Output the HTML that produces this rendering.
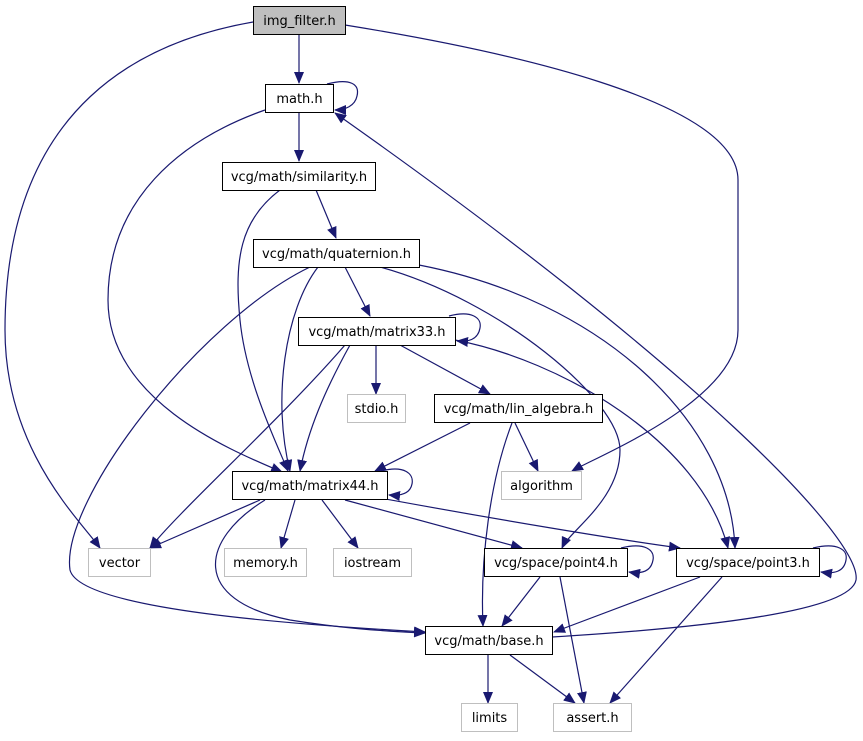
<!DOCTYPE html>
<html><head><meta charset="utf-8"><style>
body{margin:0;background:#fff;}
svg text{font-family:"DejaVu Sans","Liberation Sans",sans-serif;font-size:13px;fill:#000;}
</style></head><body>
<svg width="863" height="736" viewBox="0 0 863 736" xmlns="http://www.w3.org/2000/svg">
<defs>
<marker id="a" markerWidth="12" markerHeight="10" refX="11" refY="5" orient="auto" markerUnits="userSpaceOnUse">
<path d="M0,0 L12,5 L0,10 z" fill="#191970"/></marker>
</defs>
<g fill="none" stroke="#191970" stroke-width="1.2" marker-end="url(#a)">
<path d="M299,34 L299,83"/>
<path d="M253,22 C150,40 5,100 5,330 C5,450 80,520 100,548"/>
<path d="M345,25 C500,50 738,100 738,180 L738,330 C738,400 600,455 572,471"/>
<path d="M327,84 C350,78 360,84 357,96 C355,106 345,110 335,110"/>
<path d="M299,112 L299,161"/>
<path d="M265,110 C180,140 108,200 108,300 C108,400 230,450 282,472"/>
<path d="M316,190 L336,238"/>
<path d="M280,190 C240,220 234,260 240,320 C246,380 275,440 288,471"/>
<path d="M345,267 L370,316"/>
<path d="M318,267 C285,310 272,400 290,471"/>
<path d="M310,267 C200,320 60,500 70,570 C80,610 300,625 425,632"/>
<path d="M380,267 C500,300 620,400 620,450 C620,500 570,530 562,548"/>
<path d="M419,265 C600,300 730,420 735,548"/>
<path d="M449,316 C472,310 482,318 480,328 C478,340 468,342 457,341"/>
<path d="M376,345 L376,394"/>
<path d="M400,345 L490,394"/>
<path d="M350,345 C325,390 308,430 300,471"/>
<path d="M345,345 C280,420 180,510 150,548"/>
<path d="M455,340 C560,360 700,440 728,548"/>
<path d="M515,423 L538,471"/>
<path d="M470,423 L375,471"/>
<path d="M512,423 C490,480 480,560 483,626"/>
<path d="M381,471 C405,465 414,474 412,484 C410,494 400,496 389,495"/>
<path d="M260,500 L150,548"/>
<path d="M295,500 L281,548"/>
<path d="M322,500 L358,548"/>
<path d="M345,500 L522,548"/>
<path d="M380,498 C500,520 620,540 680,548"/>
<path d="M265,500 C200,540 190,600 290,620 C340,628 380,631 425,633"/>
<path d="M621,548 C645,542 655,550 653,560 C651,572 641,574 629,572"/>
<path d="M540,577 L502,626"/>
<path d="M560,577 L584,703"/>
<path d="M813,548 C838,542 848,550 846,560 C844,572 834,574 821,572"/>
<path d="M700,577 L554,632"/>
<path d="M722,577 L610,703"/>
<path d="M552,637 C700,628 850,612 856,580 C862,540 700,370 335,113"/>
<path d="M488,655 L488,703"/>
<path d="M510,655 L575,703"/>
</g>
<g stroke-width="1">
<rect x="253.5" y="6.5" width="92" height="28" fill="#bfbfbf" stroke="#000"/>
<rect x="265.5" y="84.5" width="68" height="28" fill="#fff" stroke="#000"/>
<rect x="222.5" y="162.5" width="153" height="28" fill="#fff" stroke="#000"/>
<rect x="253.5" y="239.5" width="166" height="28" fill="#fff" stroke="#000"/>
<rect x="298.5" y="317.5" width="157" height="28" fill="#fff" stroke="#000"/>
<rect x="347.5" y="394.5" width="58" height="28" fill="#fff" stroke="#bfbfbf"/>
<rect x="434.5" y="394.5" width="168" height="28" fill="#fff" stroke="#000"/>
<rect x="501.5" y="471.5" width="80" height="28" fill="#fff" stroke="#bfbfbf"/>
<rect x="232.5" y="471.5" width="155" height="28" fill="#fff" stroke="#000"/>
<rect x="88.5" y="548.5" width="62" height="28" fill="#fff" stroke="#bfbfbf"/>
<rect x="224.5" y="548.5" width="82" height="28" fill="#fff" stroke="#bfbfbf"/>
<rect x="333.5" y="548.5" width="78" height="28" fill="#fff" stroke="#bfbfbf"/>
<rect x="484.5" y="548.5" width="143" height="28" fill="#fff" stroke="#000"/>
<rect x="676.5" y="548.5" width="143" height="28" fill="#fff" stroke="#000"/>
<rect x="425.5" y="626.5" width="127" height="28" fill="#fff" stroke="#000"/>
<rect x="461.5" y="703.5" width="56" height="28" fill="#fff" stroke="#bfbfbf"/>
<rect x="553.5" y="703.5" width="78" height="28" fill="#fff" stroke="#bfbfbf"/>
</g>
<g text-anchor="middle">
<text x="299.5" y="25">img_filter.h</text>
<text x="299.5" y="103">math.h</text>
<text x="299" y="181">vcg/math/similarity.h</text>
<text x="336.5" y="258">vcg/math/quaternion.h</text>
<text x="377" y="336">vcg/math/matrix33.h</text>
<text x="376.5" y="413">stdio.h</text>
<text x="518.5" y="413">vcg/math/lin_algebra.h</text>
<text x="541.5" y="490">algorithm</text>
<text x="310" y="490">vcg/math/matrix44.h</text>
<text x="119.5" y="567">vector</text>
<text x="265.5" y="567">memory.h</text>
<text x="372.5" y="567">iostream</text>
<text x="556" y="567">vcg/space/point4.h</text>
<text x="748" y="567">vcg/space/point3.h</text>
<text x="489" y="645">vcg/math/base.h</text>
<text x="489.5" y="722">limits</text>
<text x="592.5" y="722">assert.h</text>
</g>
</svg>
</body></html>
